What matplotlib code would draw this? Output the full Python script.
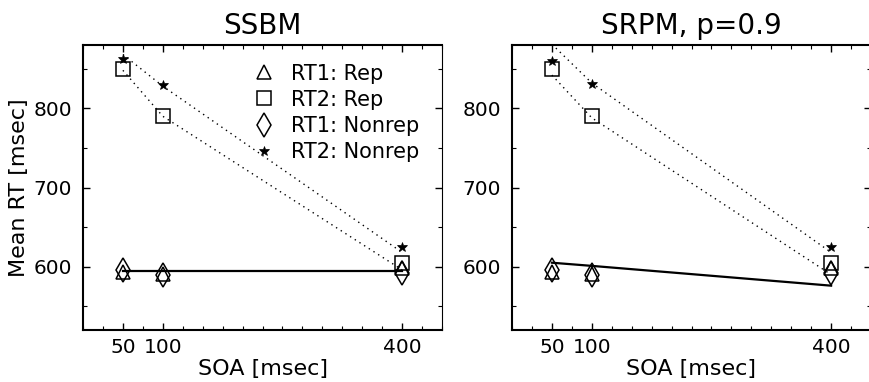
import matplotlib
matplotlib.use("Agg")
import matplotlib.pyplot as plt
from matplotlib.ticker import MultipleLocator

plt.rcParams['font.family'] = ['DejaVu Sans']

soa = [50, 100, 400]

# SSBM panel: observed means
ssbm_rt1_rep = [593, 591, 598]
ssbm_rt2_rep = [850, 790, 605]
ssbm_rt1_nonrep = [596, 590, 592]
ssbm_rt2_nonrep = [862, 830, 625]
# SSBM model predictions
ssbm_fit_rt1 = [594, 594, 594]
ssbm_fit_rt2_rep = [848, 790, 596]
ssbm_fit_rt2_nonrep = [868, 828, 618]

# SRPM panel: observed means
srpm_rt1_rep = [593, 591, 598]
srpm_rt2_rep = [850, 790, 605]
srpm_rt1_nonrep = [596, 589, 592]
srpm_rt2_nonrep = [860, 831, 625]
# SRPM model predictions
srpm_fit_rt1 = [605, 601, 576]
srpm_fit_rt2_rep = [842, 788, 590]
srpm_fit_rt2_nonrep = [881, 832, 618]

titles = ["SSBM", "SRPM, p=0.9"]
labels = ["RT1: Rep", "RT2: Rep", "RT1: Nonrep", "RT2: Nonrep"]

fig = plt.figure(figsize=(8.69, 3.82), dpi=100)
W, H = 869, 382
ax1 = fig.add_axes([83 / W, 52 / H, 359 / W, 285 / H])
ax2 = fig.add_axes([512 / W, 52 / H, 359 / W, 285 / H])

panels = [
    (ax1, ssbm_rt1_rep, ssbm_rt2_rep, ssbm_rt1_nonrep, ssbm_rt2_nonrep,
     ssbm_fit_rt1, ssbm_fit_rt2_rep, ssbm_fit_rt2_nonrep),
    (ax2, srpm_rt1_rep, srpm_rt2_rep, srpm_rt1_nonrep, srpm_rt2_nonrep,
     srpm_fit_rt1, srpm_fit_rt2_rep, srpm_fit_rt2_nonrep),
]

dots = (0, (1, 3))
for i, (ax, r1r, r2r, r1n, r2n, f1, f2r, f2n) in enumerate(panels):
    ax.plot(soa, f1, color='black', lw=1.6, zorder=2)
    ax.plot(soa, f2r, color='black', lw=1.0, ls=dots, zorder=2)
    ax.plot(soa, f2n, color='black', lw=1.0, ls=dots, zorder=2)

    ax.plot(soa, r1r, ls='none', marker='^', ms=9.5, mfc='none', mec='black', mew=1.1, label=labels[0], zorder=3)
    ax.plot(soa, r2r, ls='none', marker='s', ms=10, mfc='none', mec='black', mew=1.1, label=labels[1], zorder=3)
    ax.plot(soa, r1n, ls='none', marker='d', ms=12, mfc='none', mec='black', mew=1.1, label=labels[2], zorder=3)
    ax.plot(soa, r2n, ls='none', marker='*', ms=7.5, mfc='black', mec='black', mew=0.5, label=labels[3], zorder=3)

    ax.set_xlim(0, 450)
    ax.set_ylim(520, 880)
    ax.set_xticks(soa)
    ax.set_xticklabels(["50", "100", "400"])
    ax.set_yticks([600, 700, 800])
    ax.xaxis.set_minor_locator(MultipleLocator(25))
    ax.yaxis.set_minor_locator(MultipleLocator(50))
    ax.tick_params(which='both', direction='in', top=True, right=True, labelsize=14.5)
    ax.tick_params(which='major', length=5, width=1)
    ax.tick_params(which='minor', length=3, width=0.8)
    ax.tick_params(axis='x', pad=6)
    ax.tick_params(axis='y', pad=8)
    for side in ['left', 'bottom', 'top']:
        ax.spines[side].set_linewidth(1.5)
    ax.spines['right'].set_linewidth(0.8)
    ax.spines['right'].set_linestyle((0, (1, 1)))

    ax.set_title(titles[i], fontsize=20, pad=8)
    ax.set_xlabel("SOA [msec]", fontsize=16, labelpad=1)

ax1.set_ylabel("Mean RT [msec]", fontsize=16, labelpad=3)

ax1.legend(loc='upper left', bbox_to_anchor=(0.474, 0.935), frameon=False,
           fontsize=15, numpoints=1, handlelength=1.0, handletextpad=0.8,
           labelspacing=0.3, borderpad=0, borderaxespad=0)

fig.savefig("out.png", dpi=100)
